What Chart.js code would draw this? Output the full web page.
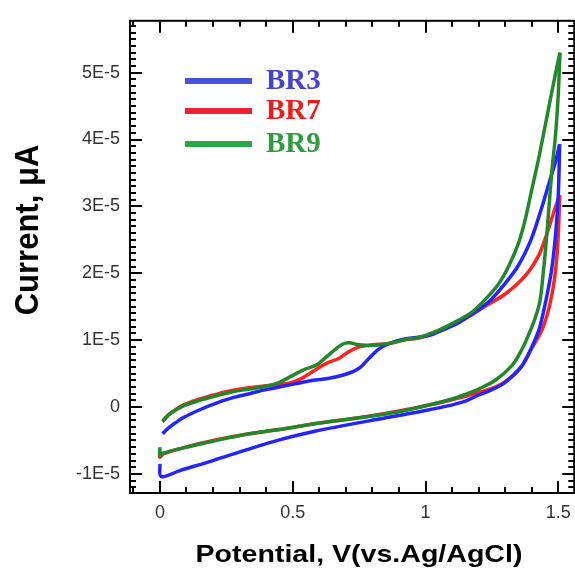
<!DOCTYPE html>
<html>
<head>
<meta charset="utf-8">
<script src="https://cdn.jsdelivr.net/npm/chart.js@4"></script>
<style>
  html, body { margin: 0; padding: 0; background: #fff; overflow: hidden; }
  .chart_cont { position: relative; width: 580px; height: 569px; }
</style>
</head>
<body>
<div class="chart_cont"><canvas id="cv"></canvas></div>
<script>
// potential in V, current in units of 1E-5
// forward scan (0 -> 1.5 V)
const br3UpV = [0.01, 0.03, 0.05, 0.087, 0.15, 0.2125, 0.275, 0.3375, 0.40, 0.4625, 0.525, 0.5625, 0.6375, 0.70, 0.75, 0.7875, 0.825, 0.8625, 0.925, 1.0125, 1.075, 1.125, 1.175, 1.24, 1.30, 1.35, 1.395, 1.435, 1.465, 1.49, 1.505];
const br3UpI = [-0.40, -0.32, -0.26, -0.16, -0.04, 0.06, 0.14, 0.20, 0.26, 0.31, 0.36, 0.39, 0.43, 0.49, 0.58, 0.73, 0.87, 0.95, 1.02, 1.07, 1.17, 1.26, 1.39, 1.58, 1.85, 2.12, 2.48, 2.95, 3.35, 3.68, 3.93];
const br7UpV = [0.01, 0.0375, 0.087, 0.15, 0.2125, 0.275, 0.3375, 0.40, 0.45, 0.49, 0.525, 0.575, 0.625, 0.675, 0.7125, 0.75, 0.80, 0.8625, 0.925, 0.975, 1.05, 1.125, 1.175, 1.225, 1.30, 1.375, 1.425, 1.456, 1.48, 1.505];
const br7UpI = [-0.22, -0.10, 0.03, 0.12, 0.19, 0.25, 0.29, 0.32, 0.335, 0.36, 0.41, 0.53, 0.65, 0.73, 0.83, 0.90, 0.93, 0.95, 1.01, 1.03, 1.14, 1.28, 1.38, 1.51, 1.69, 1.96, 2.26, 2.58, 2.88, 3.17];
const br9UpV = [0.01, 0.0375, 0.087, 0.15, 0.2125, 0.275, 0.3375, 0.40, 0.45, 0.5125, 0.55, 0.59, 0.6125, 0.65, 0.6875, 0.7125, 0.75, 0.80, 0.8625, 0.925, 0.975, 1.05, 1.125, 1.175, 1.225, 1.275, 1.3125, 1.35, 1.375, 1.40, 1.425, 1.4625, 1.49, 1.506];
const br9UpI = [-0.21, -0.10, 0.015, 0.10, 0.17, 0.23, 0.27, 0.31, 0.37, 0.50, 0.57, 0.63, 0.70, 0.83, 0.94, 0.96, 0.93, 0.92, 0.95, 1.01, 1.04, 1.15, 1.30, 1.42, 1.61, 1.84, 2.10, 2.45, 2.80, 3.25, 3.70, 4.45, 5.00, 5.30];

// reverse scan (1.5 -> 0 V), starting at the turning point
const br3DnV = [1.505, 1.50, 1.49, 1.475, 1.452, 1.428, 1.398, 1.36, 1.30, 1.25, 1.20, 1.15, 1.075, 0.95, 0.825, 0.70, 0.575, 0.45, 0.325, 0.2, 0.075, 0.005, 0.0];
const br3DnI = [3.93, 3.20, 2.60, 2.06, 1.57, 1.17, 0.88, 0.60, 0.37, 0.26, 0.18, 0.09, 0.01, -0.09, -0.18, -0.27, -0.37, -0.49, -0.64, -0.80, -0.95, -1.04, -0.85];
const br7DnV = [1.505, 1.50, 1.49, 1.47, 1.44, 1.40, 1.36, 1.30, 1.25, 1.20, 1.10, 1.0125, 0.90, 0.75, 0.60, 0.475, 0.3375, 0.20, 0.0875, 0.0125, 0.0, 0.0];
const br7DnI = [3.17, 2.60, 2.06, 1.57, 1.17, 0.88, 0.60, 0.38, 0.28, 0.22, 0.11, 0.03, -0.06, -0.16, -0.24, -0.32, -0.40, -0.50, -0.61, -0.70, -0.75, -0.65];
const br9DnV = [1.506, 1.50, 1.49, 1.475, 1.456, 1.443, 1.43, 1.41, 1.39, 1.3625, 1.325, 1.2625, 1.20, 1.15, 1.10, 1.0125, 0.90, 0.75, 0.60, 0.475, 0.3375, 0.20, 0.0875, 0.0125, 0.0, 0.0];
const br9DnI = [5.30, 4.70, 4.10, 3.50, 2.55, 2.00, 1.57, 1.30, 1.10, 0.86, 0.62, 0.40, 0.27, 0.19, 0.12, 0.03, -0.07, -0.16, -0.24, -0.32, -0.40, -0.51, -0.61, -0.69, -0.72, -0.60];

const seriesNames = ['BR3', 'BR7', 'BR9'];
const xTicks = [0, 0.5, 1, 1.5];
const xTickLabels = ['0', '0.5', '1', '1.5'];
const yTicks = [-1, 0, 1, 2, 3, 4, 5];
const yTickLabels = ['-1E-5', '0', '1E-5', '2E-5', '3E-5', '4E-5', '5E-5'];

const lineColors = ['#2424ff', '#ff2222', '#23882a'];
const legendLineColors = ['#4452dc', '#ee2233', '#26a844'];
const legendTextColors = ['#4545cc', '#ee1c1c', '#2f9c3f'];

function toPoints(vs, is) {
  return vs.map((v, i) => ({ x: v, y: is[i] * 1e-5 }));
}

function branch(i, vs, is, order) {
  return {
    label: seriesNames[i],
    data: toPoints(vs, is),
    borderColor: lineColors[i],
    order: order,
    showLine: true,
    pointRadius: 0,
    borderWidth: 3.5,
    tension: 0.35,
    fill: false
  };
}

const frame = {
  id: 'frame',
  afterDraw(chart) {
    const { ctx, chartArea: a, scales: { x, y } } = chart;
    ctx.save();
    ctx.strokeStyle = '#000';
    ctx.lineWidth = 2;
    ctx.strokeRect(a.left, a.top, a.right - a.left, a.bottom - a.top);

    ctx.beginPath();
    for (let k = -1; k <= 15; k++) {
      const px = Math.round(x.getPixelForValue(k / 10));
      if (px <= a.left + 1 || px >= a.right - 1) continue;
      const len = k % 5 === 0 ? 12 : 6;
      ctx.moveTo(px, a.bottom); ctx.lineTo(px, a.bottom - len);
      ctx.moveTo(px, a.top); ctx.lineTo(px, a.top + len);
    }
    for (let k = -12; k <= 57; k++) {
      const py = Math.round(y.getPixelForValue(k * 1e-6));
      if (py <= a.top + 1 || py >= a.bottom - 1) continue;
      const len = k % 10 === 0 ? 12 : 6;
      ctx.moveTo(a.left, py); ctx.lineTo(a.left + len, py);
      ctx.moveTo(a.right, py); ctx.lineTo(a.right - len, py);
    }
    ctx.stroke();

    // axis titles
    ctx.fillStyle = '#000';
    ctx.textAlign = 'center';
    ctx.textBaseline = 'alphabetic';
    ctx.save();
    ctx.translate(359, 562);
    ctx.scale(1.19, 1);
    ctx.font = 'bold 24px "Liberation Sans", Arial, sans-serif';
    ctx.fillText('Potential, V(vs.Ag/AgCl)', 0, 0);
    ctx.restore();
    ctx.save();
    ctx.translate(38, 230);
    ctx.scale(1.1, 1);
    ctx.rotate(-Math.PI / 2);
    ctx.font = 'bold 31px "Liberation Sans", Arial, sans-serif';
    ctx.fillText('Current, \u03bcA', 0, 0);
    ctx.restore();

    // legend
    const rows = [81, 111, 144];
    ctx.textAlign = 'left';
    ctx.font = 'bold 29px "Liberation Serif", "Times New Roman", serif';
    seriesNames.forEach((name, i) => {
      ctx.strokeStyle = legendLineColors[i];
      ctx.lineWidth = 6;
      ctx.beginPath();
      ctx.moveTo(185, rows[i]);
      ctx.lineTo(252, rows[i]);
      ctx.stroke();
      ctx.fillStyle = legendTextColors[i];
      ctx.fillText(name, 266, rows[i] + 8);
    });
    ctx.restore();
  }
};

const ctx = document.querySelector('#cv').getContext('2d');

new Chart(ctx, {
  type: 'scatter',
  data: {
    datasets: [
      branch(0, br3UpV, br3UpI, 2), branch(0, br3DnV, br3DnI, 3),
      branch(1, br7UpV, br7UpI, 4), branch(1, br7DnV, br7DnI, 5),
      branch(2, br9UpV, br9UpI, 0), branch(2, br9DnV, br9DnI, 1)
    ]
  },
  options: {
    responsive: true,
    maintainAspectRatio: false,
    animation: false,
    layout: { padding: { left: 0, top: 15, right: 4, bottom: 0 } },
    plugins: { legend: { display: false }, tooltip: { enabled: false } },
    scales: {
      x: {
        type: 'linear',
        min: -0.1125,
        max: 1.56,
        grid: { display: false, drawTicks: false },
        border: { display: false },
        afterFit: s => { s.height = 76; },
        afterBuildTicks: s => { s.ticks = xTicks.map(v => ({ value: v })); },
        ticks: {
          padding: 9,
          color: '#333',
          font: { family: '"Liberation Sans", Arial, sans-serif', size: 18 },
          callback: (v, i) => xTickLabels[i]
        }
      },
      y: {
        type: 'linear',
        min: -1.285e-5,
        max: 5.775e-5,
        grid: { display: false, drawTicks: false },
        border: { display: false },
        afterFit: s => { s.width = 130; },
        afterBuildTicks: s => { s.ticks = yTicks.map(v => ({ value: v * 1e-5 })); },
        ticks: {
          padding: 10,
          color: '#333',
          font: { family: '"Liberation Sans", Arial, sans-serif', size: 18 },
          callback: (v, i) => yTickLabels[i]
        }
      }
    }
  },
  plugins: [frame]
});
</script>
</body>
</html>
